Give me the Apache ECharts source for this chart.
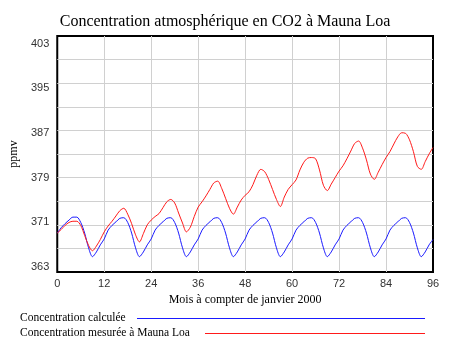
<!DOCTYPE html>
<html>
<head>
<meta charset="utf-8">
<script src="https://cdn.jsdelivr.net/npm/echarts@6/dist/echarts.min.js"></script>
<style>
html,body{margin:0;padding:0;background:#fff;}
#chart{width:450px;height:345px;}
</style>
</head>
<body>
<div id="chart"></div>
<script>
// Months counted from January 2000
const monthCount = 97;
// Concentration calculée (ppmv)
const calculee = [
  369.6, 370.5, 371.2, 371.8, 372.3, 372.3, 371.4, 369.6, 367.1, 365.6, 366.4, 367.6,
  368.6, 370.1, 370.9, 371.5, 372.1, 372.2, 371.4, 369.6, 367.1, 365.6, 366.4, 367.6,
  368.6, 370.1, 370.9, 371.5, 372.1, 372.2, 371.4, 369.6, 367.1, 365.6, 366.4, 367.6,
  368.6, 370.1, 370.9, 371.5, 372.1, 372.2, 371.4, 369.6, 367.1, 365.6, 366.4, 367.6,
  368.6, 370.1, 370.9, 371.5, 372.1, 372.2, 371.4, 369.6, 367.1, 365.6, 366.4, 367.6,
  368.6, 370.1, 370.9, 371.5, 372.1, 372.2, 371.4, 369.6, 367.1, 365.6, 366.4, 367.6,
  368.6, 370.1, 370.9, 371.5, 372.1, 372.2, 371.4, 369.6, 367.1, 365.6, 366.4, 367.6,
  368.6, 370.1, 370.9, 371.5, 372.1, 372.2, 371.4, 369.6, 367.1, 365.6, 366.4, 367.6,
  368.5
];
// Concentration mesurée à Mauna Loa (ppmv)
const mesuree = [
  369.6, 370.2, 370.9, 371.4, 371.6, 371.6, 370.9, 369.2, 367.5, 366.6, 367.4, 368.5,
  369.8, 370.8, 371.6, 372.5, 373.4, 373.8, 372.8, 371.2, 369.3, 368.1, 369.5, 371.0,
  371.8, 372.4, 372.9, 373.9, 374.9, 375.3, 374.7, 373.0, 371.3, 369.8, 370.6, 372.4,
  374.0, 374.9, 375.9, 377.0, 378.1, 378.4, 377.2, 375.5, 373.8, 372.8, 374.0, 375.2,
  376.0, 376.6, 377.8, 379.4, 380.4, 380.0, 378.7, 377.0, 375.3, 374.1, 375.7, 377.0,
  377.8, 378.6, 380.3, 381.6, 382.3, 382.4, 382.2, 380.3, 377.7, 376.8, 377.9, 379.0,
  380.1, 381.0, 382.2, 383.5, 384.8, 385.2, 384.0, 382.0, 379.6, 378.7, 379.9, 381.2,
  382.4, 383.4, 384.7, 385.9, 386.6, 386.5, 385.4, 383.4, 380.9, 380.4, 381.7, 383.0,
  384.1
];
const xTicks = [0, 12, 24, 36, 48, 60, 72, 84, 96];
const yTickLabels = [363, 371, 379, 387, 395, 403];
const titleText = 'Concentration atmosphérique en CO2 à Mauna Loa';
const xName = 'Mois à compter de janvier 2000';
const yName = 'ppmv';
const seriesNames = ['Concentration calculée', 'Concentration mesurée à Mauna Loa'];

const toPairs = arr => arr.map((v, i) => [i, v]);

const chart = echarts.init(document.getElementById('chart'), null, {renderer: 'canvas'});
const serif = '"Liberation Serif", "Times New Roman", serif';
const sans = '"Liberation Sans", Arial, sans-serif';

chart.setOption({
  animation: false,
  backgroundColor: '#fff',
  title: {
    text: titleText,
    left: 'center',
    top: 9,
    textStyle: {fontFamily: serif, fontSize: 16, fontWeight: 'normal', color: '#000'}
  },
  grid: {
    left: 53, right: 17, top: 36, bottom: 73,
    show: true, borderColor: '#000', borderWidth: 2, backgroundColor: '#fff'
  },
  xAxis: {
    type: 'value', min: 0, max: 96, interval: 12,
    name: xName, nameLocation: 'middle', nameGap: 22,
    nameTextStyle: {fontFamily: serif, fontSize: 12, color: '#000'},
    axisLine: {show: false}, axisTick: {show: false},
    axisLabel: {fontFamily: sans, fontSize: 11, color: '#333', margin: 6,
      customValues: xTicks},
    splitLine: {show: true, showMinLine: false, showMaxLine: false,
      lineStyle: {color: '#d0d0d0', width: 1}}
  },
  yAxis: [
    {
      type: 'value', min: 363, max: 403, interval: 4,
      axisLine: {show: false}, axisTick: {show: false},
      axisLabel: {show: false},
      splitLine: {show: true, showMinLine: false, showMaxLine: false,
        lineStyle: {color: '#d0d0d0', width: 1}}
    },
    {
      type: 'value', min: 362.1, max: 404.34, position: 'left',
      name: yName, nameLocation: 'middle', nameGap: 36, nameRotate: 90,
      nameTextStyle: {fontFamily: serif, fontSize: 12, color: '#000'},
      axisLine: {show: false}, axisTick: {show: false},
      splitLine: {show: false},
      axisLabel: {fontFamily: sans, fontSize: 11, color: '#333', margin: 8,
        customValues: yTickLabels, showMinLabel: true, showMaxLabel: true}
    }
  ],
  series: [
    {
      name: seriesNames[0], type: 'line', yAxisIndex: 0,
      data: toPairs(calculee), showSymbol: false, smooth: 0.3,
      lineStyle: {color: '#1a1aff', width: 1}, itemStyle: {color: '#1a1aff'}
    },
    {
      name: seriesNames[1], type: 'line', yAxisIndex: 0,
      data: toPairs(mesuree), showSymbol: false, smooth: 0.3,
      lineStyle: {color: '#ff1a1a', width: 1}, itemStyle: {color: '#ff1a1a'}
    }
  ],
  graphic: [
    {type: 'text', left: 20, top: 312,
      style: {text: seriesNames[0], font: '11.5px ' + serif, fill: '#000'}},
    {type: 'line', shape: {x1: 137, y1: 318.5, x2: 425, y2: 318.5},
      style: {stroke: '#1a1aff', lineWidth: 1}},
    {type: 'text', left: 20, top: 327,
      style: {text: seriesNames[1], font: '11.5px ' + serif, fill: '#000'}},
    {type: 'line', shape: {x1: 205, y1: 333.5, x2: 425, y2: 333.5},
      style: {stroke: '#ff1a1a', lineWidth: 1}}
  ]
});
</script>
</body>
</html>
